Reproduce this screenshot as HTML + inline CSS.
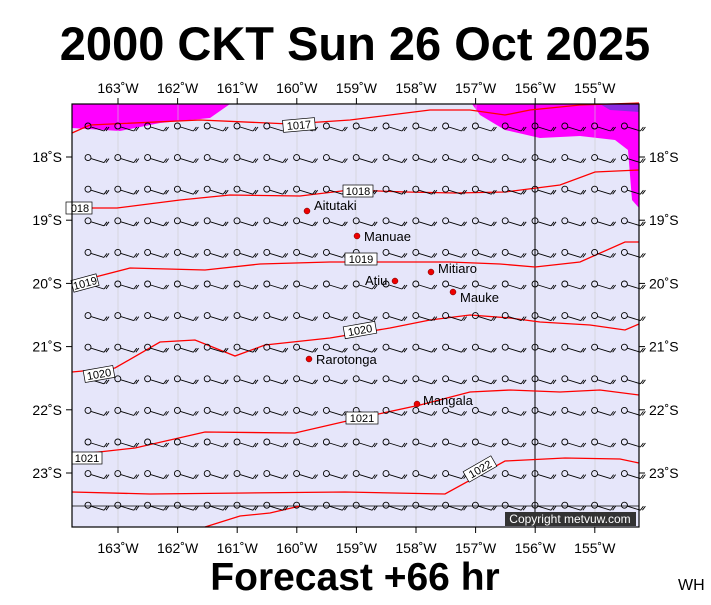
<!DOCTYPE html>
<html><head><meta charset="utf-8"><style>
body{margin:0;background:#fff;width:711px;height:600px;overflow:hidden;font-family:"Liberation Sans",sans-serif}
</style></head><body>
<svg width="711" height="600" xmlns="http://www.w3.org/2000/svg" font-family="Liberation Sans, sans-serif">
<text x="355" y="60" text-anchor="middle" font-size="47" font-weight="bold">2000 CKT Sun 26 Oct 2025</text>
<text x="355" y="590" text-anchor="middle" font-size="39" font-weight="bold">Forecast +66 hr</text>
<text x="678" y="590" font-size="16">WH</text>
<rect x="72" y="104" width="567" height="423" fill="#e6e6fa"/>
<path d="M72,104 L230,104 L210,118 L160,123 L120,131 L72,128Z" fill="#ff00ff"/>
<path d="M472,104 L639,104 L639,208 L632,200 L628,150 L615,140 L580,136 L540,138 L505,130 L480,115Z" fill="#ff00ff"/>
<path d="M600,104 L639,104 L639,112 L610,110Z" fill="#8a2be2"/>
<g stroke="#ccc" stroke-width="0.6"><line x1="118" y1="104" x2="118" y2="527"/><line x1="178" y1="104" x2="178" y2="527"/><line x1="237" y1="104" x2="237" y2="527"/><line x1="297" y1="104" x2="297" y2="527"/><line x1="356" y1="104" x2="356" y2="527"/><line x1="416" y1="104" x2="416" y2="527"/><line x1="476" y1="104" x2="476" y2="527"/><line x1="595" y1="104" x2="595" y2="527"/></g>
<line x1="535" y1="104" x2="535" y2="527" stroke="#000"/>
<line x1="72" y1="506" x2="639" y2="506" stroke="#000" stroke-width="0.8"/>
<g fill="none" stroke="#f00" stroke-width="1.3">
<polyline points="72,133 90,125 200,120 290,124 350,120 430,110 470,110 505,115 530,110 580,105 639,103"/>
<polyline points="72,208 117,208 180,200 230,195 300,196 350,190 406,192 455,193 505,192 560,185 595,172 639,170"/>
<polyline points="72,283 130,268 205,270 260,264 330,262 380,262 450,262 500,264 535,267 580,262 625,242 639,242"/>
<polyline points="72,372 115,368 160,342 195,340 235,356 265,345 330,338 390,328 430,320 470,315 510,318 540,322 590,325 625,330 639,324"/>
<polyline points="72,455 135,448 205,432 295,433 360,418 420,405 470,392 510,390 560,392 600,390 639,395"/>
<polyline points="72,492 150,494 245,493 345,492 445,494 505,461 565,458 620,459 639,463"/>
<polyline points="205,527 240,516 270,513 300,506"/>
</g>
<g id="barbs" fill="none" stroke="#000" stroke-width="0.9"></g>
<g font-size="11" text-anchor="middle">
<g fill="#fff" stroke="#000" stroke-width="0.7">
<rect x="283" y="119" width="32" height="12" transform="rotate(-5 299 125)"/>
<rect x="343" y="185" width="30" height="12"/>
<rect x="66" y="202" width="26" height="12"/>
<rect x="345" y="253" width="32" height="12"/>
<rect x="72" y="277" width="26" height="12" transform="rotate(-15 85 283)"/>
<rect x="344" y="324" width="32" height="12" transform="rotate(-10 360 330)"/>
<rect x="84" y="368" width="30" height="12" transform="rotate(-10 99 374)"/>
<rect x="346" y="412" width="32" height="12"/>
<rect x="72" y="452" width="30" height="12"/>
<rect x="464" y="463" width="32" height="12" transform="rotate(-30 480 469)"/>
</g>
<text x="299" y="129" transform="rotate(-5 299 125)">1017</text>
<text x="358" y="195">1018</text>
<text x="80" y="212">018</text>
<text x="361" y="263">1019</text>
<text x="85" y="287" transform="rotate(-15 85 283)">1019</text>
<text x="360" y="334" transform="rotate(-10 360 330)">1020</text>
<text x="99" y="378" transform="rotate(-10 99 374)">1020</text>
<text x="362" y="422">1021</text>
<text x="87" y="462">1021</text>
<text x="480" y="473" transform="rotate(-30 480 469)">1022</text>
</g>
<g fill="#e00" stroke="#600" stroke-width="0.5">
<circle cx="307" cy="211" r="3"/><circle cx="357" cy="236" r="3"/><circle cx="395" cy="281" r="3"/><circle cx="431" cy="272" r="3"/><circle cx="453" cy="292" r="3"/><circle cx="309" cy="359" r="3"/><circle cx="417" cy="404" r="3"/>
</g>
<g font-size="13">
<text x="314" y="210">Aitutaki</text><text x="364" y="241">Manuae</text><text x="365" y="285">Atiu</text><text x="438" y="273">Mitiaro</text><text x="460" y="302">Mauke</text><text x="316" y="364">Rarotonga</text><text x="423" y="405">Mangala</text>
</g>
<rect x="505" y="512" width="131" height="14" fill="#333"/>
<text x="570" y="523" text-anchor="middle" font-size="12" fill="#fff">Copyright metvuw.com</text>
<rect x="72" y="104" width="567" height="423" fill="none" stroke="#000" stroke-width="1.2"/>
<g id="ticks" stroke="#000"></g>
<g id="labs" font-size="14"></g>
</svg>
<script>
var g=document.getElementById("barbs"),s="";
for(var r=0;r<13;r++){var y=126+r*31.6;for(var c=0;c<19;c++){var x=88+c*29.8;
s+='<circle cx="'+x+'" cy="'+y+'" r="3"/><line x1="'+(x+3)+'" y1="'+(y+1)+'" x2="'+(x+16)+'" y2="'+(y+5)+'"/><line x1="'+(x+16)+'" y1="'+(y+5)+'" x2="'+(x+19)+'" y2="'+(y+1)+'"/><line x1="'+(x+18)+'" y1="'+(y+5)+'" x2="'+(x+21)+'" y2="'+(y+1)+'"/>';}}
g.innerHTML=s;
var t="",l="",lons=[163,162,161,160,159,158,157,156,155];
for(var i=0;i<9;i++){var x=118+i*59.6;t+='<line x1="'+x+'" y1="98" x2="'+x+'" y2="104"/><line x1="'+x+'" y1="527" x2="'+x+'" y2="533"/>';
l+='<text x="'+x+'" y="93" text-anchor="middle">'+lons[i]+'˚W</text><text x="'+x+'" y="553" text-anchor="middle">'+lons[i]+'˚W</text>';}
for(var j=0;j<6;j++){var y=157+j*63.2;t+='<line x1="66" y1="'+y+'" x2="72" y2="'+y+'"/><line x1="639" y1="'+y+'" x2="645" y2="'+y+'"/>';
l+='<text x="62" y="'+(y+5)+'" text-anchor="end">'+(18+j)+'˚S</text><text x="649" y="'+(y+5)+'">'+(18+j)+'˚S</text>';}
document.getElementById("ticks").innerHTML=t;document.getElementById("labs").innerHTML=l;
</script>
</body></html>
